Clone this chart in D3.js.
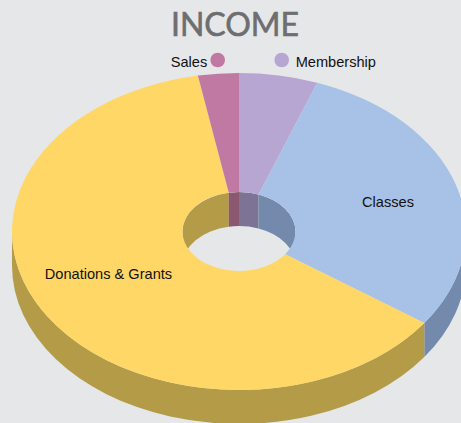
<!DOCTYPE html>
<html>
<head>
<meta charset="utf-8">
<script src="https://cdn.jsdelivr.net/npm/d3@7"></script>
<style>
  html, body { margin: 0; padding: 0; background: #e6e7e9; overflow: hidden; }
  text { font-family: "Liberation Sans", Arial, sans-serif; fill: #111; }
</style>
</head>
<body>
<svg></svg>
<script>
// Data
const categories = ["Membership", "Classes", "Donations & Grants", "Sales"];
const values = [5.6, 29.2, 62.3, 2.9];
const topColors = ["#b7a5d2", "#a8c1e6", "#ffd766", "#c079a3"];
const sideColors = ["#7d7394", "#738aac", "#b39b48", "#8c5870"];
const legendItems = ["Sales", "Membership"];

// Sizes
const width = 461;
const height = 423;
const cx = 239;
const cy = 231.5;
const rx = 227;
const ry = 158.5;
const holeRx = 56.5;
const depth = 34;
const squash = ry / rx;
const labelSize = "14.6px";

const svg = d3.select("svg")
  .attr("width", width)
  .attr("height", height);

// Scales
const topColor = d3.scaleOrdinal().domain(categories).range(topColors);
const sideColor = d3.scaleOrdinal().domain(categories).range(sideColors);

const pie = d3.pie().sort(null).value(d => d.value);
const slices = pie(categories.map((name, i) => ({ name, value: values[i] })));

const arc = d3.arc().innerRadius(holeRx).outerRadius(rx);

// Everything in the disc is drawn round, then squashed flat
const disc = svg.append("g")
  .attr("transform", `translate(${cx}, ${cy}) scale(1, ${squash})`);

const wallDepth = depth / squash;

// Band between an arc and the same arc moved down by the disc's depth
const wallPath = (radius, a0, a1) => {
  const p = d3.path();
  const s = a0 - Math.PI / 2;
  const e = a1 - Math.PI / 2;
  p.arc(0, 0, radius, s, e);
  p.arc(0, wallDepth, radius, e, s, true);
  p.closePath();
  return p.toString();
};

// Outer wall, only the front half shows
const outerWalls = slices
  .map(d => ({
    name: d.data.name,
    a0: Math.max(d.startAngle, Math.PI / 2),
    a1: Math.min(d.endAngle, Math.PI * 1.5)
  }))
  .filter(d => d.a1 > d.a0);

disc.append("g").selectAll("path")
  .data(outerWalls)
  .join("path")
    .attr("d", d => wallPath(rx, d.a0, d.a1))
    .attr("fill", d => sideColor(d.name));

// Top surface
disc.append("g").selectAll("path")
  .data(slices)
  .join("path")
    .attr("d", arc)
    .attr("fill", d => topColor(d.data.name));

// Inner wall, only the back half shows, seen through the hole
svg.append("clipPath")
  .attr("id", "hole")
  .append("circle")
    .attr("r", holeRx);

const innerWalls = slices.flatMap(d => {
  const parts = [];
  if (d.startAngle < Math.PI / 2) {
    parts.push({ name: d.data.name, a0: d.startAngle, a1: Math.min(d.endAngle, Math.PI / 2) });
  }
  if (d.endAngle > Math.PI * 1.5) {
    parts.push({ name: d.data.name, a0: Math.max(d.startAngle, Math.PI * 1.5), a1: d.endAngle });
  }
  return parts;
});

disc.append("g")
  .attr("clip-path", "url(#hole)")
  .selectAll("path")
  .data(innerWalls)
  .join("path")
    .attr("d", d => wallPath(holeRx, d.a0, d.a1))
    .attr("fill", d => sideColor(d.name));

// Title
svg.append("text")
  .attr("x", 235)
  .attr("y", 36)
  .attr("text-anchor", "middle")
  .style("font-family", "Lato, sans-serif")
  .style("font-size", "32px")
  .style("fill", "#6d6e70")
  .style("stroke", "#6d6e70")
  .style("stroke-width", "0.6px")
  .text("INCOME");

// Legend
const legendX = d3.scalePoint().domain(legendItems).range([217.7, 281.7]);
const legendY = 60;

svg.append("g").selectAll("circle")
  .data(legendItems)
  .join("circle")
    .attr("cx", d => legendX(d))
    .attr("cy", legendY)
    .attr("r", 7.3)
    .attr("fill", d => topColor(d));

svg.append("g").selectAll("text")
  .data(legendItems)
  .join("text")
    .attr("x", (d, i) => legendX(d) + (i === 0 ? -10.5 : 14))
    .attr("y", legendY + 6.5)
    .attr("text-anchor", (d, i) => i === 0 ? "end" : "start")
    .style("font-size", labelSize)
    .text(d => d);

// Slice labels
svg.append("text")
  .attr("x", 388)
  .attr("y", 207)
  .attr("text-anchor", "middle")
  .style("font-size", labelSize)
  .text("Classes");

svg.append("text")
  .attr("x", 108.5)
  .attr("y", 279)
  .attr("text-anchor", "middle")
  .style("font-size", labelSize)
  .text("Donations & Grants");
</script>
</body>
</html>
